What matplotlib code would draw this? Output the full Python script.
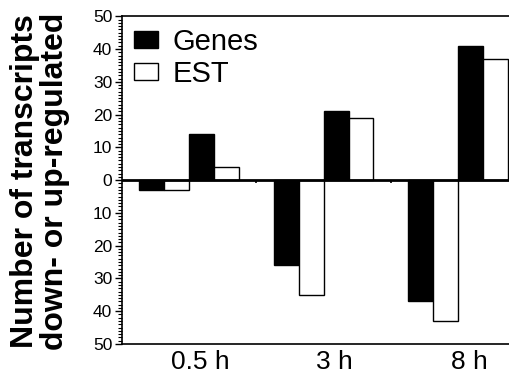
import numpy as np
import matplotlib
matplotlib.use('Agg')
import matplotlib.pyplot as plt
from matplotlib.ticker import MultipleLocator
from matplotlib.patches import Patch

plt.rcParams['font.family'] = ['Liberation Sans', 'DejaVu Sans']

# data: down-regulated (negative) and up-regulated counts per time point
times = ['0.5 h', '3 h', '8 h']
genes_down = [3, 26, 37]
est_down = [3, 35, 43]
genes_up = [14, 21, 41]
est_up = [4, 19, 37]
ytick_vals = [-50, -40, -30, -20, -10, 0, 10, 20, 30, 40, 50]
ytick_labels = ['50', '40', '30', '20', '10', '0', '10', '20', '30', '40', '50']

fig = plt.figure(figsize=(5.09, 3.75), dpi=100)
ax = fig.add_axes([0.2397, 0.0827, 0.7703, 0.874])

centers = np.arange(len(times)) * 5.4
w = 1.0
ax.bar(centers - 1.5, -np.array(genes_down), w, color='black', edgecolor='black', lw=1)
ax.bar(centers - 0.5, -np.array(est_down), w, color='white', edgecolor='black', lw=1)
ax.bar(centers + 0.5, genes_up, w, color='black', edgecolor='black', lw=1)
ax.bar(centers + 1.5, est_up, w, color='white', edgecolor='black', lw=1)

ax.axhline(0, color='black', lw=2)
seps = (centers[:-1] + centers[1:]) / 2
ax.vlines(seps, -1.0, 0, color='black', lw=1.2)

ax.set_ylim(-50, 50)
ax.set_xlim(-2.7, 13.05)
ax.set_yticks(ytick_vals)
ax.set_yticklabels(ytick_labels, fontsize=12.5)
ax.yaxis.set_minor_locator(MultipleLocator(1))
ax.tick_params(axis='y', which='major', direction='out', length=5, width=1, pad=2)
ax.tick_params(axis='y', which='minor', direction='out', length=3, width=0.8)

ax.set_xticks(centers + 0.45)
ax.set_xticklabels(times, fontsize=19)
ax.tick_params(axis='x', length=0, pad=4)

ax.spines['right'].set_visible(False)
for s in ['left', 'top', 'bottom']:
    ax.spines[s].set_linewidth(1.2)

handles = [Patch(facecolor='black', edgecolor='black'),
           Patch(facecolor='white', edgecolor='black')]
ax.legend(handles, ['Genes', 'EST'], loc='upper left', frameon=False, fontsize=21,
          handlelength=0.82, handleheight=0.52, handletextpad=0.5, labelspacing=0.15,
          borderaxespad=0.2, borderpad=0.2)

fig.text(0.078, 0.517, 'Number of transcripts\ndown- or up-regulated', rotation=90,
         fontsize=23, fontweight='bold', ha='center', va='center', linespacing=1.0)

fig.savefig('out.png', dpi=100)
